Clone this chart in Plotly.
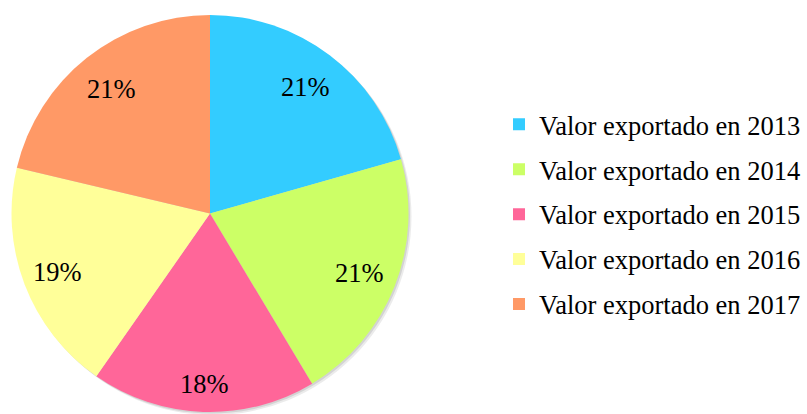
import math
import plotly.graph_objects as go

labels = ["Valor exportado en 2013", "Valor exportado en 2014", "Valor exportado en 2015",
          "Valor exportado en 2016", "Valor exportado en 2017"]
values = [20.6, 20.8, 18.3, 19.0, 21.3]
colors = ["#33CCFF", "#CCFF66", "#FF6699", "#FFFF99", "#FF9966"]

# style: radial position of each percentage label (fraction of radius)
label_r = [0.80, 0.81, 0.86, 0.82, 0.80]

W, H = 807, 414
cx, cy, R = 210, 213.5, 198.5
FONT = "Liberation Serif"
FS = 26.5

fig = go.Figure()
fig.add_trace(go.Pie(
    labels=labels, values=values, sort=False, direction="clockwise", rotation=0,
    marker=dict(colors=colors, line=dict(width=0)),
    textinfo="none", hoverinfo="label+percent", showlegend=False,
    domain=dict(x=[(cx - R) / W, (cx + R) / W], y=[(H - cy - R) / H, (H - cy + R) / H]),
))

# legend entries (one per category)
for lab, col in zip(labels, colors):
    fig.add_trace(go.Scatter(x=[None], y=[None], mode="markers", name=lab,
                             marker=dict(symbol="square", size=12, color=col, line=dict(width=0)),
                             legendgroup=lab, showlegend=True, hoverinfo="skip"))

total = sum(values)
cum = 0
ann = []
for v, fr in zip(values, label_r):
    mid = (cum + v / 2) / total * 2 * math.pi
    cum += v
    r = fr * R
    px = cx + r * math.sin(mid)
    py = cy - r * math.cos(mid)
    pct = int(math.floor(v / total * 100 + 0.5))
    ann.append(dict(x=px / W, y=1 - py / H, xref="paper", yref="paper",
                    xanchor="center", yanchor="middle",
                    text=f"{pct}%", showarrow=False,
                    font=dict(family=FONT, size=FS, color="#000000")))

# soft drop shadow behind the pie
shapes = []
for off, a in [(3, 0.08), (1.5, 0.10)]:
    shapes.append(dict(type="circle", xref="paper", yref="paper", layer="below",
                       x0=(cx - R + off) / W, x1=(cx + R + off) / W,
                       y0=(H - cy - R - off) / H, y1=(H - cy + R - off) / H,
                       fillcolor=f"rgba(0,0,0,{a})", line=dict(width=0)))

fig.update_layout(
    width=W, height=H, margin=dict(l=0, r=0, t=0, b=0),
    paper_bgcolor="white", plot_bgcolor="rgba(0,0,0,0)",
    annotations=ann, shapes=shapes,
    xaxis=dict(visible=False, domain=[0.99, 1]),
    yaxis=dict(visible=False, domain=[0.99, 1]),
    legend=dict(x=499 / W, y=1 - 214.5 / H, xanchor="left", yanchor="middle",
                font=dict(family=FONT, size=FS, color="#000000"),
                traceorder="grouped", tracegroupgap=7.5, itemsizing="trace",
                bgcolor="rgba(0,0,0,0)"),
)
fig.write_html("out.html", config={"displayModeBar": False},
               post_script="document.body.style.margin='0px';")
